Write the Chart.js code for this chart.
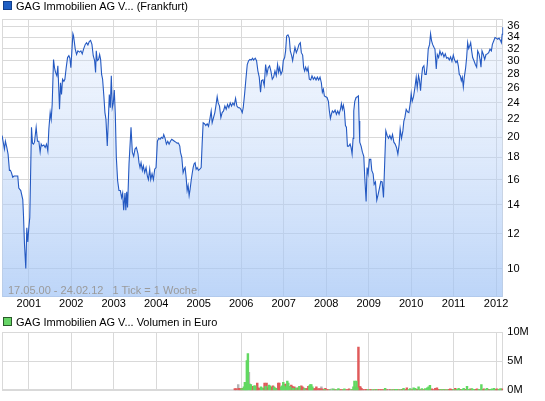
<!DOCTYPE html>
<html>
<head>
<meta charset="utf-8">
<script src="https://cdn.jsdelivr.net/npm/chart.js@4.4.1/dist/chart.umd.min.js"></script>
<style>
  html, body { margin:0; padding:0; background:#fff; }
  #wrap { position:relative; width:545px; height:401px; overflow:hidden; font-family:"Liberation Sans", Arial, sans-serif; }
  .leg { position:absolute; left:3px; font-size:11px; color:#000; white-space:nowrap; line-height:13px; }
  .sq { display:inline-block; width:7px; height:7px; margin-right:4px; vertical-align:0px; box-sizing:content-box; }
  #c1 { position:absolute; left:0; top:0; }
  #c2 { position:absolute; left:0; top:310px; }
  #range { position:absolute; left:8px; top:284px; font-size:11px; color:#9a9a9a; white-space:pre; line-height:13px; }
</style>
</head>
<body>
<div id="wrap">
  <canvas id="c1" width="545" height="310"></canvas>
  <canvas id="c2" width="545" height="91"></canvas>
  <div class="leg" style="top:0px;"><span class="sq" style="background:#1f5fc4;border:1px solid #123f8c;"></span>GAG Immobilien AG V... (Frankfurt)</div>
  <div id="range">17.05.00 - 24.02.12   1 Tick = 1 Woche</div>
  <div class="leg" style="top:316px;"><span class="sq" style="background:#66d466;border:1px solid #2a5a2a;"></span>GAG Immobilien AG V... Volumen in Euro</div>
</div>
<script>
// ---- data ----
const yearTicks = [2001,2002,2003,2004,2005,2006,2007,2008,2009,2010,2011,2012];
const priceTicks = [10,12,14,16,18,20,22,24,26,28,30,32,34,36];
const volumeTicks = [0,5000000,10000000];

const priceYears = [
2000.372,2000.403,2000.427,2000.450,2000.482,2000.513,2000.545,2000.568,2000.592,2000.623,
2000.655,2000.702,2000.741,2000.765,2000.812,2000.859,2000.875,2000.899,2000.930,2000.954,
2000.977,2001.001,2001.024,2001.048,2001.064,2001.087,2001.111,2001.135,2001.174,2001.205,
2001.237,2001.268,2001.292,2001.315,2001.355,2001.386,2001.418,2001.449,2001.473,2001.504,
2001.528,2001.551,2001.583,2001.606,2001.630,2001.661,2001.685,2001.708,2001.724,2001.748,
2001.771,2001.795,2001.826,2001.850,2001.881,2001.913,2001.944,2001.968,2001.991,2002.015,
2002.039,2002.054,2002.070,2002.094,2002.125,2002.157,2002.196,2002.227,2002.259,2002.290,
2002.330,2002.361,2002.392,2002.424,2002.455,2002.487,2002.518,2002.550,2002.573,2002.589,
2002.613,2002.644,2002.668,2002.691,2002.715,2002.738,2002.770,2002.793,2002.817,2002.848,
2002.872,2002.896,2002.919,2002.943,2002.966,2002.990,2003.013,2003.037,2003.061,2003.092,
2003.123,2003.155,2003.186,2003.210,2003.234,2003.265,2003.285,2003.305,2003.325,2003.360,
2003.407,2003.438,2003.470,2003.501,2003.533,2003.572,2003.595,2003.619,2003.643,2003.674,
2003.698,2003.729,2003.761,2003.792,2003.816,2003.847,2003.871,2003.902,2003.934,2003.965,
2003.996,2004.028,2004.059,2004.091,2004.122,2004.154,2004.177,2004.209,2004.240,2004.272,
2004.303,2004.334,2004.366,2004.397,2004.429,2004.460,2004.492,2004.523,2004.555,2004.570,
2004.602,2004.633,2004.657,2004.680,2004.704,2004.728,2004.751,2004.775,2004.798,2004.822,
2004.846,2004.869,2004.893,2004.916,2004.940,2004.963,2004.995,2005.026,2005.058,2005.081,
2005.105,2005.136,2005.168,2005.199,2005.231,2005.262,2005.294,2005.317,2005.349,2005.380,
2005.404,2005.435,2005.459,2005.490,2005.522,2005.553,2005.585,2005.616,2005.647,2005.679,
2005.710,2005.742,2005.773,2005.805,2005.836,2005.868,2005.899,2005.931,2005.962,2005.993,
2006.025,2006.048,2006.080,2006.111,2006.143,2006.174,2006.206,2006.237,2006.268,2006.291,
2006.331,2006.362,2006.394,2006.425,2006.456,2006.480,2006.512,2006.543,2006.575,2006.606,
2006.637,2006.669,2006.700,2006.732,2006.763,2006.795,2006.826,2006.857,2006.881,2006.905,
2006.936,2006.968,2006.991,2007.023,2007.046,2007.070,2007.101,2007.133,2007.156,2007.188,
2007.211,2007.235,2007.266,2007.298,2007.329,2007.361,2007.392,2007.416,2007.447,2007.471,
2007.494,2007.518,2007.549,2007.573,2007.604,2007.636,2007.667,2007.699,2007.730,2007.762,
2007.793,2007.824,2007.856,2007.887,2007.911,2007.935,2007.958,2007.990,2008.021,2008.053,
2008.076,2008.100,2008.123,2008.147,2008.178,2008.210,2008.241,2008.273,2008.304,2008.336,
2008.359,2008.383,2008.406,2008.430,2008.454,2008.477,2008.501,2008.532,2008.563,2008.587,
2008.611,2008.634,2008.650,2008.674,2008.705,2008.736,2008.760,2008.776,2008.791,2008.823,
2008.854,2008.886,2008.909,2008.941,2008.964,2008.988,2009.019,2009.051,2009.074,2009.106,
2009.130,2009.161,2009.192,2009.224,2009.255,2009.287,2009.318,2009.350,2009.381,2009.405,
2009.436,2009.468,2009.499,2009.531,2009.562,2009.594,2009.625,2009.656,2009.688,2009.719,
2009.743,2009.774,2009.806,2009.829,2009.853,2009.884,2009.916,2009.947,2009.979,2010.002,
2010.026,2010.057,2010.089,2010.120,2010.144,2010.175,2010.199,2010.222,2010.246,2010.270,
2010.301,2010.325,2010.356,2010.380,2010.403,2010.435,2010.458,2010.482,2010.506,2010.537,
2010.561,2010.592,2010.616,2010.647,2010.678,2010.710,2010.741,2010.773,2010.804,2010.836,
2010.867,2010.899,2010.930,2010.961,2010.993,2011.024,2011.056,2011.087,2011.111,2011.134,
2011.158,2011.182,2011.205,2011.229,2011.252,2011.284,2011.307,2011.331,2011.355,2011.378,
2011.402,2011.425,2011.449,2011.480,2011.512,2011.543,2011.567,2011.598,2011.622,2011.645,
2011.669,2011.700,2011.732,2011.763,2011.795,2011.826,2011.857,2011.889,2011.913,2011.944,
2011.976,2012.007,2012.039,2012.070,2012.102,2012.125,2012.143,2012.160
];
const priceValues = [
20.2,19.4,18.8,19.6,19.0,18.3,16.8,16.8,16.6,16.2,
16.3,16.3,16.3,15.3,15.1,14.4,13.3,11.4,10.0,12.4,
11.5,12.4,13.1,17.4,21.1,19.4,19.3,19.5,21.1,19.6,
19.6,18.5,19.3,19.1,19.2,18.96,19.3,18.6,20.9,22.8,
22.0,23.8,30.2,28.9,28.2,27.7,29.2,25.6,23.2,26.7,
25.1,27.2,26.9,27.2,28.9,30.5,30.8,30.4,28.9,31.6,
34.6,34.2,33.3,31.9,31.0,31.6,31.4,31.6,31.1,31.9,
32.7,33.0,32.6,33.2,33.4,32.7,30.8,30.0,28.2,31.6,
30.0,30.2,31.0,30.2,27.9,27.2,24.7,22.8,22.0,19.1,
21.8,25.1,23.4,27.7,23.4,24.0,25.7,22.6,18.0,15.9,
15.1,15.1,14.55,14.9,13.6,14.9,13.6,15.0,13.8,17.4,
21.1,18.5,18.1,18.8,18.96,18.3,17.5,17.05,17.5,16.8,
17.2,16.6,17.05,16.3,16.0,16.9,16.0,16.5,16.0,16.9,
17.05,19.6,19.9,19.8,20.0,19.9,20.3,19.9,19.3,19.6,
19.3,19.6,19.8,19.7,19.6,19.5,19.4,19.4,19.1,18.5,
18.0,16.6,16.9,17.05,16.2,15.1,15.5,14.7,15.2,15.9,
16.5,17.05,17.4,17.5,16.9,17.05,16.8,16.9,17.05,19.3,
21.6,21.5,21.3,21.5,21.2,22.0,23.0,21.6,22.2,22.8,
23.6,24.8,24.0,23.6,22.2,22.8,23.0,23.6,23.2,23.8,
23.4,24.0,23.6,24.0,23.7,24.6,23.6,23.4,23.4,23.2,
22.8,23.4,25.1,27.2,29.4,29.98,30.2,30.1,30.4,30.1,
30.4,30.0,28.4,27.5,25.4,27.0,27.1,26.3,29.4,27.9,
28.9,29.2,28.4,27.2,27.5,28.4,27.7,29.4,28.2,28.9,
27.9,28.4,30.0,30.5,31.6,34.2,34.4,33.8,31.6,30.8,
30.0,31.0,32.2,31.3,31.9,32.7,33.0,31.3,30.9,28.9,
28.4,29.0,28.4,28.9,27.2,27.1,27.7,27.2,27.5,27.1,
27.5,27.1,27.5,26.7,25.4,25.8,24.9,24.8,24.7,24.2,
23.0,22.1,22.6,23.0,22.8,23.1,22.6,23.0,22.6,23.2,
23.9,23.2,23.7,23.0,21.3,21.1,19.1,19.1,19.3,18.96,
18.3,19.9,23.0,24.2,24.7,24.8,24.9,21.8,19.5,19.1,
18.5,18.1,16.2,14.25,17.05,16.5,17.8,17.8,16.8,16.5,
15.6,15.8,14.35,14.8,15.3,15.85,15.8,14.55,17.8,20.7,
20.2,19.9,20.2,19.8,20.3,19.5,19.3,18.96,18.3,19.3,
20.9,19.9,20.7,21.8,22.2,23.2,22.9,22.8,23.9,25.2,
24.2,24.8,26.0,27.5,26.0,27.7,27.0,25.6,27.5,28.9,
29.2,27.9,27.9,29.4,31.9,32.7,34.6,33.3,32.7,32.2,
31.9,28.7,31.0,30.5,31.6,30.9,31.3,30.6,31.1,30.4,
30.5,30.1,30.6,29.9,30.9,30.1,29.7,30.0,29.2,27.9,
27.7,27.0,27.5,26.1,27.5,28.9,30.5,33.0,32.0,32.4,
33.0,31.6,30.5,30.0,29.4,29.0,31.6,31.1,30.2,29.0,
31.6,31.0,30.2,31.0,31.1,31.3,31.9,31.6,32.7,33.3,
33.9,33.8,33.6,33.8,33.4,33.0,34.5,35.8
];

// weekly volume in Euro; direction: u = price up, d = price down, n = unchanged
const volumeYears = [
2005.851,2005.891,2005.930,2005.954,2005.985,2006.009,2006.032,2006.064,2006.087,2006.111,
2006.134,2006.158,2006.182,2006.205,2006.229,2006.252,2006.276,2006.307,2006.331,2006.355,
2006.378,2006.402,2006.433,2006.465,2006.496,2006.528,2006.551,2006.575,2006.598,2006.622,
2006.653,2006.677,2006.701,2006.724,2006.748,2006.771,2006.795,2006.818,2006.842,2006.873,
2006.897,2006.921,2006.944,2006.968,2006.991,2007.015,2007.039,2007.062,2007.086,2007.109,
2007.133,2007.157,2007.180,2007.204,2007.227,2007.251,2007.274,2007.298,2007.322,2007.345,
2007.369,2007.392,2007.416,2007.440,2007.463,2007.487,2007.510,2007.534,2007.558,2007.581,
2007.605,2007.628,2007.652,2007.675,2007.699,2007.723,2007.746,2007.770,2007.793,2007.817,
2007.840,2007.864,2007.888,2007.911,2007.935,2007.958,2007.982,2008.013,2008.053,2008.092,
2008.131,2008.171,2008.210,2008.249,2008.289,2008.328,2008.367,2008.407,2008.430,2008.469,
2008.509,2008.540,2008.580,2008.619,2008.642,2008.666,2008.689,2008.713,2008.737,2008.760,
2008.784,2008.807,2008.831,2008.863,2008.902,2008.941,2008.981,2009.020,2009.059,2009.099,
2009.138,2009.177,2009.216,2009.256,2009.295,2009.334,2009.374,2009.389,2009.429,2009.468,
2009.507,2009.547,2009.586,2009.625,2009.664,2009.704,2009.743,2009.782,2009.822,2009.861,
2009.900,2009.940,2009.979,2010.018,2010.058,2010.097,2010.136,2010.176,2010.215,2010.254,
2010.293,2010.333,2010.380,2010.411,2010.443,2010.490,2010.529,2010.569,2010.608,2010.647,
2010.687,2010.726,2010.765,2010.805,2010.844,2010.883,2010.922,2010.962,2011.001,2011.040,
2011.080,2011.119,2011.158,2011.198,2011.237,2011.276,2011.316,2011.355,2011.394,2011.433,
2011.473,2011.512,2011.551,2011.591,2011.622,2011.654,2011.685,2011.716,2011.748,2011.787,
2011.827,2011.866,2011.905,2011.953,2011.992,2012.023,2012.062,2012.102,2012.141
];
const volumeValues = [
0.3,0.3,1.0,0.35,0.3,0.3,0.35,0.6,1.4,1.1,
5.1,6.3,3.1,1.1,1.0,0.7,0.35,0.8,0.8,0.35,
1.25,0.45,0.35,0.6,0.45,0.35,1.25,0.7,1.25,0.45,
0.9,0.8,0.6,0.45,0.8,0.6,0.45,0.35,0.35,1.25,
1.25,0.45,0.6,0.8,1.4,0.8,1.1,0.6,1.6,1.25,
0.7,0.6,0.9,0.7,0.35,0.6,0.35,0.45,0.35,0.45,
0.7,0.35,0.8,0.6,0.45,0.3,0.3,0.35,0.3,0.7,
0.8,1.0,1.0,0.6,0.3,0.25,0.3,0.6,0.25,0.25,
0.3,0.25,0.6,0.25,0.2,0.2,0.35,0.15,0.15,0.15,
0.25,0.25,0.15,0.15,0.3,0.15,0.15,0.15,0.25,0.15,
0.15,0.25,0.15,0.2,0.6,1.6,0.6,1.6,0.45,7.4,
0.7,0.6,0.35,0.15,0.15,0.2,0.15,0.15,0.15,0.15,
0.15,0.2,0.15,0.15,0.15,0.15,0.15,0.35,0.15,0.2,
0.15,0.15,0.15,0.2,0.2,0.15,0.15,0.2,0.35,0.15,
0.45,0.15,0.3,0.15,0.45,0.35,0.2,0.6,0.15,0.3,
0.15,0.3,0.45,0.6,0.85,0.25,0.15,0.35,0.45,0.2,
0.2,0.15,0.2,0.15,0.15,0.2,0.25,0.2,0.2,0.35,
0.2,0.35,0.2,0.2,0.35,0.2,0.7,0.2,0.25,0.3,
0.2,0.2,0.25,0.2,0.2,1.0,0.2,0.25,0.2,0.35,
0.2,0.2,0.25,0.35,0.2,0.25,0.2,0.3,0.25
];
const volumeDirs = [
'd','d','n','d','d','u','d','u','u','u',
'u','u','n','u','u','d','d','u','u','d',
'd','d','d','u','u','d','d','u','d','d',
'u','u','d','d','d','u','d','u','d','d',
'd','d','u','u','u','u','d','u','u','u',
'd','u','d','d','u','d','d','u','d','d',
'u','d','d','d','d','u','d','n','d','d',
'u','u','u','u','d','d','d','d','d','n',
'd','d','n','d','d','u','d','d','d','u',
'n','u','d','u','u','d','d','u','u','d',
'd','d','u','d','u','u','d','u','u','d',
'd','d','d','d','d','d','u','d','d','u',
'd','u','d','d','d','d','u','u','d','n',
'd','u','d','u','u','d','u','d','u','d',
'd','u','u','d','u','u','d','u','d','u',
'd','u','u','u','u','d','d','d','d','d',
'u','d','u','d','u','d','d','d','u','d',
'u','u','d','u','u','d','u','u','d','u',
'u','d','d','u','u','u','d','d','u','u',
'd','u','u','u','d','d','u','u','d'
];

// ---- styling / rendering ----
const FONT = "'Liberation Sans', Arial, sans-serif";
const GRID = '#d9d9d9';

const outline = {
  id: 'outline',
  beforeDatasetsDraw(chart) {
    const {ctx, chartArea: a} = chart;
    ctx.save();
    ctx.strokeStyle = GRID;
    ctx.lineWidth = 1;
    ctx.strokeRect(Math.round(a.left) + 0.5, Math.round(a.top) + 0.5, Math.round(a.width) - 1, Math.round(a.height) - 1);
    ctx.restore();
  }
};

function fillGradient(context) {
  const chart = context.chart;
  const a = chart.chartArea;
  if (!a) return 'rgba(180,205,245,0.5)';
  const g = chart.ctx.createLinearGradient(0, a.top, 0, a.bottom);
  g.addColorStop(0, 'rgba(205,222,250,0.22)');
  g.addColorStop(1, 'rgba(160,195,245,0.70)');
  return g;
}

new Chart(document.getElementById('c1'), {
  type: 'line',
  data: {
    datasets: [{
      data: priceYears.map((x, i) => ({x: x, y: priceValues[i]})),
      borderColor: '#2459c2',
      borderWidth: 1.1,
      pointRadius: 0,
      tension: 0,
      fill: 'start',
      backgroundColor: fillGradient
    }]
  },
  options: {
    responsive: false,
    animation: false,
    devicePixelRatio: 1,
    layout: {padding: {left: 2, top: 19, right: 0, bottom: 0}},
    plugins: {legend: {display: false}, tooltip: {enabled: false}},
    scales: {
      x: {
        type: 'linear',
        position: 'bottom',
        min: 2000.37,
        max: 2012.17,
        afterBuildTicks: s => { s.ticks = yearTicks.map(v => ({value: v})); },
        afterFit: s => { s.height = 13; },
        ticks: {autoSkip: false, maxRotation: 0, padding: 0, color: '#000',
                font: {family: FONT, size: 11}, callback: v => String(v)},
        grid: {color: GRID, lineWidth: 1, drawTicks: false},
        border: {display: false}
      },
      y: {
        type: 'logarithmic',
        position: 'right',
        min: 8.6,
        max: 37.4,
        afterBuildTicks: s => { s.ticks = priceTicks.map(v => ({value: v})); },
        afterFit: s => { s.width = 41.7; },
        ticks: {autoSkip: false, padding: 4, color: '#000',
                font: {family: FONT, size: 11}, callback: v => String(v)},
        grid: {color: GRID, lineWidth: 1, drawTicks: false},
        border: {display: false}
      }
    }
  },
  plugins: [outline]
});

function volSet(dir, color) {
  const pts = [];
  volumeYears.forEach((x, i) => { if (volumeDirs[i] === dir) pts.push({x: x, y: volumeValues[i] * 1e6}); });
  return {data: pts, backgroundColor: color, barThickness: 1.8, grouped: false, borderWidth: 0};
}

new Chart(document.getElementById('c2'), {
  type: 'bar',
  data: {
    datasets: [
      volSet('u', '#62d862'),
      volSet('d', '#e05a5a'),
      volSet('n', '#b4b4b4')
    ]
  },
  options: {
    responsive: false,
    animation: false,
    devicePixelRatio: 1,
    layout: {padding: {left: 2, top: 22, right: 0, bottom: 0}},
    plugins: {legend: {display: false}, tooltip: {enabled: false}},
    scales: {
      x: {
        type: 'linear',
        offset: false,
        min: 2000.37,
        max: 2012.17,
        afterBuildTicks: s => { s.ticks = yearTicks.map(v => ({value: v})); },
        afterFit: s => { s.height = 10; },
        ticks: {display: false},
        grid: {color: GRID, lineWidth: 1, drawTicks: false, offset: false},
        border: {display: false}
      },
      y: {
        position: 'right',
        min: 0,
        max: 10000000,
        afterBuildTicks: s => { s.ticks = volumeTicks.map(v => ({value: v})); },
        afterFit: s => { s.width = 41.7; },
        ticks: {autoSkip: false, padding: 4, color: '#000',
                font: {family: FONT, size: 11}, callback: v => (v / 1e6) + 'M'},
        grid: {color: GRID, lineWidth: 1, drawTicks: false},
        border: {display: false}
      }
    }
  },
  plugins: [outline]
});
</script>
</body>
</html>
